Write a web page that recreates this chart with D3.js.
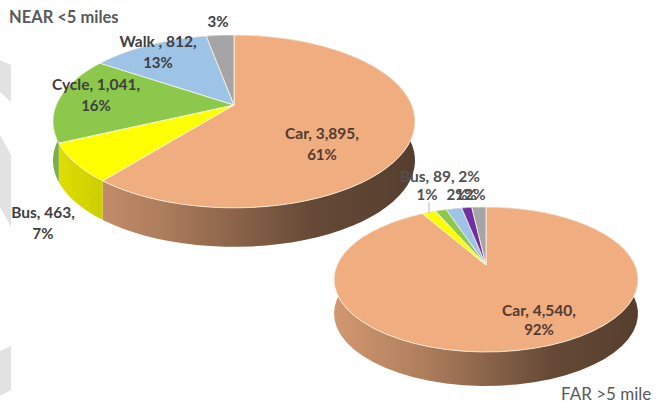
<!DOCTYPE html>
<html><head><meta charset="utf-8">
<script src="https://cdn.jsdelivr.net/npm/d3@7/dist/d3.min.js"></script>
<style>html,body{margin:0;background:#fff}svg{display:block}text{font-family:Lato,"Open Sans",sans-serif;font-weight:700;fill:#404040}</style>
</head><body><svg id="c" width="659" height="403"></svg>
<script>
const nearCategories=["Car","Bus","Cycle","Walk","Other"];
const nearValues=[3895,463,1041,812,190];
const farCategories=["Car","Bus","Cycle","Walk","Motorcycle","Other"];
const farValues=[4540,89,70,100,65,90];
const sliceColors={Car:"#F0AD80",Bus:"#FFFF00",Cycle:"#8CC84B",Walk:"#9DC3E6",Motorcycle:"#7030A0",Other:"#A5A5A5"};
const svg=d3.select("#c"),defs=svg.append("defs");
const pieGen=d3.pie().sort(null).value(d=>d.v);
const shade=(c,f)=>{const r=d3.rgb(c);return d3.rgb(r.r*f,r.g*f,r.b*f).formatHex();};

function wallGradient(id,x0,x1,c){
  const g=defs.append("linearGradient").attr("id",id).attr("gradientUnits","userSpaceOnUse")
    .attr("x1",x0).attr("x2",x1).attr("y1",0).attr("y2",0);
  [[0,0.88],[0.3,0.72],[0.72,0.42],[1,0.36]].forEach(([o,f])=>
    g.append("stop").attr("offset",o).attr("stop-color",shade(c,f)));
}
function drawPie(key,cats,vals,o){
  const project=a=>{const u=Math.sin(a),v=-Math.cos(a),den=1-o.k*v;
    return [o.cx+o.rx*Math.sqrt(1-o.k*o.k)*u/den,o.ay+o.top*(1+o.k)*v/den];};
  const line=d3.line();
  const data=pieGen(cats.map((c,i)=>({c,v:vals[i]})));
  const arc=(a0,a1)=>d3.range(0,61).map(i=>project(a0+(a1-a0)*i/60));
  const g=svg.append("g");
  data.forEach((d,i)=>{
    const id=key+"w"+i;
    wallGradient(id,o.cx-o.rx,o.cx+o.rx,sliceColors[d.data.c]);
    const pts=arc(d.startAngle,d.endAngle);
    const low=pts.map(p=>[p[0],p[1]+o.depth]).reverse();
    g.append("path").attr("d",line(pts.concat(low))+"Z").attr("fill",`url(#${id})`);
  });
  data.forEach(d=>{
    const pts=[[o.cx,o.ay]].concat(arc(d.startAngle,d.endAngle));
    g.append("path").attr("d",line(pts)+"Z").attr("fill",sliceColors[d.data.c])
      .attr("stroke","#fff6e8").attr("stroke-width",0.8).attr("stroke-linejoin","round");
  });
}
// pale background shapes at the left margin
const bgShapes=[[[0,60],[11,65],[11,102],[0,92]],[[0,135],[11,155],[11,227],[0,207]],[[0,351],[11,346],[11,390],[0,396]]];
bgShapes.forEach(s=>svg.append("path").attr("d",d3.line()(s)+"Z").attr("fill","#e2e2e2"));

drawPie("n",nearCategories,nearValues,{cx:234,ay:105,rx:181,top:70,k:0.19,depth:39});
drawPie("f",farCategories,farValues,{cx:486,ay:265,rx:152,top:58,k:0.2,depth:34});

const labels=[
["NEAR <5 miles",9,23,"start",16.5,"#595959"],
["3%",218,27,"middle",15,"#404040"],
["Walk , 812,",158,47,"middle",15.5,"#404040"],["13%",158,68,"middle",15,"#404040"],
["Cycle, 1,041,",96,90,"middle",15.5,"#404040"],["16%",96,111,"middle",15,"#404040"],
["Car, 3,895,",322,139,"middle",15.5,"#503c32"],["61%",322,160,"middle",15,"#503c32"],
["Bus, 463,",43,218,"middle",15.5,"#404040"],["7%",43,239,"middle",15,"#404040"],
["Bus, 89, 2%",440,182,"middle",15.5,"#505050"],["1%",427,200,"middle",15,"#505050"],
["2%",457,200,"middle",15,"#505050"],["1%",466,200,"middle",15,"#505050"],["2%",475,200,"middle",15,"#505050"],
["Car, 4,540,",539,316,"middle",15.5,"#503c32"],["92%",539,335,"middle",15,"#503c32"]];
labels.forEach(([t,x,y,a,s,c])=>svg.append("text").attr("x",x).attr("y",y).attr("text-anchor",a).style("font-size",s+"px").style("fill",c).text(t));
svg.append("text").attr("x",561).attr("y",400).style("font-weight",400).style("font-size","17px").style("fill","#595959").text("FAR >5 mile");
svg.append("line").attr("x1",429).attr("x2",429).attr("y1",202).attr("y2",213).attr("stroke","#a6a6a6").attr("stroke-width",0.8);
</script></body></html>
